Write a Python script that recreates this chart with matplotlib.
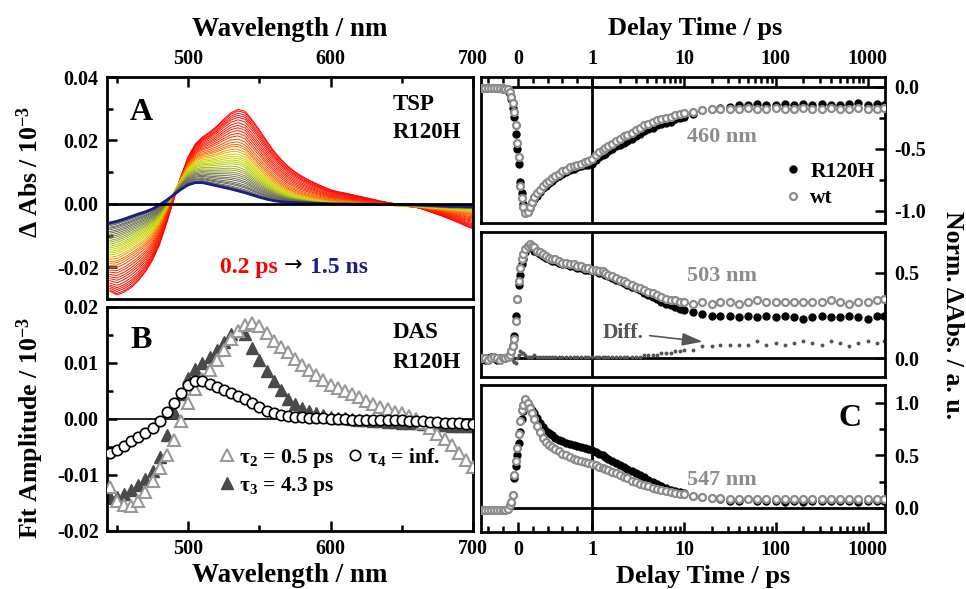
import numpy as np
import matplotlib.pyplot as plt
from matplotlib.colors import LinearSegmentedColormap
from matplotlib.ticker import FixedLocator, FuncFormatter, FormatStrFormatter

plt.rcParams['font.family'] = ['Liberation Serif', 'DejaVu Sans']
plt.rcParams['font.weight'] = 'bold'
plt.rcParams['mathtext.fontset'] = 'custom'
plt.rcParams['mathtext.rm'] = 'Liberation Serif:bold'
plt.rcParams['mathtext.it'] = 'Liberation Serif:bold'
plt.rcParams['mathtext.bf'] = 'Liberation Serif:bold'
plt.rcParams['axes.unicode_minus'] = False

# ---- decay associated spectra (fit amplitudes, 10^-3) ----
wl = np.arange(445, 701, 5)
das2 = [-0.0122, -0.0147, -0.0153, -0.0155, -0.0146, -0.0130, -0.0110, -0.0088, -0.0065, -0.0038,
        -0.0003, 0.0028, 0.0053, 0.0072, 0.0088, 0.0105, 0.0124, 0.0143, 0.0158, 0.0167,
        0.0172, 0.0166, 0.0153, 0.0140, 0.0128, 0.0119, 0.0108, 0.0097, 0.0087, 0.0078,
        0.0069, 0.0061, 0.0055, 0.0050, 0.0045, 0.0039, 0.0033, 0.0027, 0.0022, 0.0017,
        0.0013, 0.0010, 0.0005, 0.0000, -0.0007, -0.0016, -0.0026, -0.0036, -0.0046, -0.0060,
        -0.0073, -0.0085]
das3 = [-0.0140, -0.0140, -0.0134, -0.0126, -0.0118, -0.0107, -0.0092, -0.0068, -0.0029, 0.0012,
        0.0045, 0.0073, 0.0090, 0.0100, 0.0110, 0.0123, 0.0138, 0.0151, 0.0158, 0.0152,
        0.0127, 0.0106, 0.0086, 0.0067, 0.0051, 0.0036, 0.0026, 0.0020, 0.0015, 0.0011,
        0.0007, 0.0004, 0.0002, 0.0001, 0.0000, -0.0001, -0.0002, -0.0003, -0.0004, -0.0005,
        -0.0006, -0.0007, -0.0008, -0.0008, -0.0009, -0.0010, -0.0010, -0.0011, -0.0012, -0.0012,
        -0.0013, -0.0013]
das4 = [-0.0060, -0.0055, -0.0048, -0.0040, -0.0032, -0.0025, -0.0016, -0.0003, 0.0012, 0.0029,
        0.0046, 0.0060, 0.0067, 0.0067, 0.0062, 0.0057, 0.0052, 0.0047, 0.0041, 0.0035,
        0.0028, 0.0021, 0.0015, 0.0010, 0.0007, 0.0005, 0.0004, 0.0003, 0.0002, 0.0001,
        0.0001, 0.0000, 0.0000, 0.0000, -0.0001, -0.0001, -0.0001, -0.0001, -0.0002, -0.0002,
        -0.0002, -0.0002, -0.0003, -0.0003, -0.0004, -0.0005, -0.0006, -0.0007, -0.0008, -0.0008,
        -0.0009, -0.0009]
taus = [0.5, 4.3, np.inf]  # ps

# delays of the transient spectra in panel A (0.2 ps -> 1.5 ns)
spec_delays = [0.2, 0.22, 0.25, 0.28, 0.31, 0.35, 0.4, 0.45, 0.5, 0.56, 0.63, 0.7, 0.8, 0.9,
               1.0, 1.1, 1.25, 1.4, 1.6, 1.8, 2.0, 2.25, 2.5, 2.8, 3.2, 3.6, 4.0, 4.5, 5.0,
               5.6, 6.3, 7.0, 8.0, 9.0, 10, 12, 14, 17, 20, 25, 30, 40, 50, 70, 100, 150,
               200, 300, 500, 800, 1000, 1500]

# ---- kinetic traces (normalised) ----
delay = [-0.48, -0.44, -0.40, -0.36, -0.32, -0.28, -0.24, -0.20, -0.17, -0.14, -0.11, -0.09,
         -0.07, -0.05, -0.03, -0.01, 0.01, 0.03, 0.05, 0.07, 0.10, 0.13, 0.16, 0.19, 0.22,
         0.26, 0.30, 0.34, 0.38, 0.42, 0.46, 0.50, 0.55, 0.60, 0.65, 0.70, 0.75, 0.80, 0.85,
         0.90, 0.95, 1.00,
         1.1, 1.2, 1.3, 1.4, 1.5, 1.65, 1.8, 2.0, 2.2, 2.4, 2.7, 3.0, 3.3, 3.7, 4.1, 4.6,
         5.1, 5.7, 6.4, 7.2, 8.0, 9.0, 10.0,
         12.6, 15.8, 20, 25, 32, 40, 50, 63, 79, 100, 126, 158, 200, 251, 316, 398, 501,
         631, 794, 1000, 1259, 1500]

r120h_460 = [-0.01, -0.01, -0.01, -0.01, -0.01, -0.01, -0.01, -0.02, -0.02, -0.03, -0.06, -0.10,
             -0.17, -0.24, -0.38, -0.50, -0.62, -0.77, -0.86, -0.95, -1.00, -1.01, -0.98, -0.94, -0.91,
             -0.88, -0.85, -0.82, -0.80, -0.78, -0.76, -0.74, -0.72, -0.70, -0.69, -0.67, -0.66, -0.65, -0.64,
             -0.63, -0.63, -0.62,
             -0.59, -0.57, -0.55, -0.54, -0.52, -0.50, -0.48, -0.47, -0.45, -0.44, -0.42, -0.40, -0.38, -0.36,
             -0.34, -0.33, -0.31, -0.30, -0.29, -0.28, -0.26, -0.25, -0.24,
             -0.22, -0.19, -0.18, -0.17, -0.16, -0.15, -0.15, -0.14, -0.15, -0.15, -0.14, -0.15, -0.14,
             -0.15, -0.14, -0.15, -0.15, -0.14, -0.13, -0.15, -0.14, -0.15]
wt_460 = [-0.01, -0.01, -0.01, -0.01, -0.01, -0.01, -0.01, -0.01, -0.02, -0.02, -0.04, -0.08,
          -0.13, -0.20, -0.31, -0.45, -0.57, -0.80, -0.90, -0.97, -1.02, -1.01, -0.97, -0.93, -0.89,
          -0.86, -0.83, -0.80, -0.78, -0.76, -0.74, -0.72, -0.70, -0.68, -0.67, -0.65, -0.64, -0.63, -0.62,
          -0.61, -0.60, -0.58,
          -0.55, -0.53, -0.51, -0.49, -0.48, -0.46, -0.44, -0.42, -0.40, -0.39, -0.37, -0.35, -0.33, -0.31,
          -0.30, -0.28, -0.27, -0.26, -0.25, -0.24, -0.23, -0.22, -0.21,
          -0.20, -0.19, -0.18, -0.18, -0.18, -0.18, -0.17, -0.18, -0.18, -0.17, -0.18, -0.18, -0.17,
          -0.18, -0.18, -0.17, -0.18, -0.18, -0.17, -0.18, -0.18, -0.17]

r120h_503 = [0.00, -0.01, 0.00, 0.01, 0.00, -0.01, 0.00, 0.00, 0.00, 0.01, 0.02, 0.04,
             0.08, 0.13, 0.25, 0.35, 0.43, 0.49, 0.55, 0.58, 0.62, 0.65, 0.66, 0.65, 0.63,
             0.62, 0.61, 0.60, 0.59, 0.58, 0.57, 0.57, 0.56, 0.55, 0.55, 0.54, 0.54, 0.53, 0.53,
             0.52, 0.52, 0.51,
             0.51, 0.50, 0.50, 0.49, 0.48, 0.47, 0.46, 0.45, 0.44, 0.43, 0.42, 0.41, 0.40, 0.38,
             0.37, 0.36, 0.35, 0.33, 0.32, 0.31, 0.30, 0.29, 0.28,
             0.27, 0.26, 0.25, 0.25, 0.25, 0.24, 0.25, 0.24, 0.25, 0.24, 0.25, 0.24, 0.23,
             0.24, 0.25, 0.24, 0.24, 0.25, 0.24, 0.23, 0.25, 0.25]
wt_503 = [0.00, 0.00, -0.01, 0.00, 0.01, 0.00, -0.01, 0.00, 0.00, 0.01, 0.02, 0.04,
          0.07, 0.11, 0.22, 0.35, 0.45, 0.53, 0.58, 0.61, 0.64, 0.66, 0.67, 0.66, 0.65,
          0.63, 0.62, 0.61, 0.60, 0.59, 0.58, 0.58, 0.57, 0.56, 0.56, 0.55, 0.55, 0.54, 0.54,
          0.53, 0.53, 0.52,
          0.52, 0.51, 0.51, 0.50, 0.49, 0.48, 0.47, 0.46, 0.45, 0.44, 0.43, 0.42, 0.41, 0.40,
          0.39, 0.38, 0.37, 0.36, 0.35, 0.34, 0.34, 0.33, 0.33,
          0.32, 0.33, 0.32, 0.33, 0.33, 0.32, 0.33, 0.34, 0.33, 0.33, 0.33, 0.33, 0.33,
          0.33, 0.33, 0.34, 0.33, 0.32, 0.33, 0.33, 0.34, 0.35]

r120h_547 = [-0.02, -0.02, -0.02, -0.02, -0.02, -0.02, -0.02, -0.02, -0.02, -0.01, 0.02, 0.05,
             0.12, 0.28, 0.40, 0.50, 0.62, 0.72, 0.85, 0.92, 0.96, 0.98, 0.96, 0.93, 0.90,
             0.86, 0.81, 0.77, 0.73, 0.71, 0.69, 0.67, 0.65, 0.64, 0.62, 0.61, 0.60, 0.59, 0.58,
             0.57, 0.56, 0.55,
             0.53, 0.51, 0.50, 0.48, 0.47, 0.45, 0.43, 0.41, 0.39, 0.37, 0.35, 0.33, 0.31, 0.29,
             0.27, 0.25, 0.23, 0.21, 0.19, 0.17, 0.16, 0.15, 0.14,
             0.11, 0.10, 0.09, 0.08, 0.07, 0.07, 0.08, 0.07, 0.07, 0.07, 0.06, 0.07, 0.06,
             0.07, 0.07, 0.07, 0.07, 0.07, 0.06, 0.07, 0.07, 0.07]
wt_547 = [-0.02, -0.02, -0.02, -0.02, -0.02, -0.02, -0.02, -0.02, -0.02, -0.01, 0.03, 0.06,
          0.12, 0.31, 0.45, 0.57, 0.70, 0.83, 0.93, 0.98, 1.04, 1.00, 0.95, 0.90, 0.85,
          0.78, 0.72, 0.67, 0.63, 0.60, 0.58, 0.56, 0.54, 0.51, 0.50, 0.48, 0.47, 0.46, 0.45,
          0.44, 0.43, 0.42,
          0.41, 0.39, 0.38, 0.37, 0.36, 0.34, 0.33, 0.31, 0.29, 0.28, 0.26, 0.25, 0.23, 0.22,
          0.21, 0.19, 0.18, 0.17, 0.16, 0.15, 0.14, 0.13, 0.13,
          0.11, 0.10, 0.09, 0.09, 0.08, 0.08, 0.08, 0.08, 0.08, 0.08, 0.08, 0.08, 0.08,
          0.08, 0.08, 0.08, 0.08, 0.08, 0.08, 0.08, 0.08, 0.08]

delay = np.array(delay)
W, H = 966, 589
fig = plt.figure(figsize=(W / 100, H / 100), dpi=100)


def rect(x0, y0, x1, y1):
    return [x0 / W, 1 - y1 / H, (x1 - x0) / W, (y1 - y0) / H]


def ftext(x, y, s, **kw):
    fig.text(x / W, 1 - y / H, s, **kw)


def style(ax):
    for sp in ax.spines.values():
        sp.set_linewidth(2)
    ax.tick_params(which='both', direction='in', labelsize=14.5, width=1.8)
    ax.tick_params(which='major', length=7, pad=6)
    ax.tick_params(which='minor', length=4)


axA = fig.add_axes(rect(107, 77, 473, 299))
axB = fig.add_axes(rect(107, 307, 473, 531))

# ---- panel A: transient spectra built from the DAS ----
navy = '#1c1c8c'
cmap = LinearSegmentedColormap.from_list('tsp', [
    (0.0, '#ff0000'), (0.12, '#ff2400'), (0.18, '#ff6a00'), (0.23, '#d8cc00'),
    (0.27, '#c4dc00'), (0.32, '#9cb020'), (0.38, '#6a6a50'), (0.70, '#4a4a5a'), (1.0, navy)])
lt = np.log(spec_delays)
for i, t in enumerate(spec_delays):
    s = sum(np.array(d) * np.exp(-t / tau) for d, tau in zip([das2, das3, das4], taus))
    f = (lt[i] - lt[0]) / (lt[-1] - lt[0])
    last = i == len(spec_delays) - 1
    axA.plot(wl, s, color=navy if last else cmap(f), lw=2.0 if last else 0.7,
             zorder=3 if last else 2)
axA.axhline(0, color='k', lw=2, zorder=4)
axA.set_xlim(443, 700)
axA.set_ylim(-0.03, 0.04)
axA.xaxis.tick_top()
axA.xaxis.set_major_locator(FixedLocator([500, 600, 700]))
axA.xaxis.set_minor_locator(FixedLocator([450, 550, 650]))
axA.yaxis.set_major_locator(FixedLocator([-0.02, 0.0, 0.02, 0.04]))
axA.yaxis.set_minor_locator(FixedLocator([-0.01, 0.01, 0.03]))
axA.yaxis.set_major_formatter(FormatStrFormatter('%.2f'))
style(axA)
axA.tick_params(axis='x', which='both', top=True, bottom=False, labeltop=True, labelbottom=False)
axA.tick_params(axis='y', which='both', right=False)

# ---- panel B: DAS ----
axB.plot(wl, das3, '^', color='#4a4a4a', ms=8, zorder=2, label='τ$_3$ = 4.3 ps')
axB.plot(wl, das2, '^', mfc='white', mec='#999999', mew=1.5, ms=8.5, zorder=3,
         label='τ$_2$ = 0.5 ps')
axB.plot(wl, das4, 'o', mfc='white', mec='black', mew=1.2, ms=7.5, zorder=4,
         label='τ$_4$ = inf.')
axB.axhline(0, color='k', lw=1.2, zorder=1)
axB.set_xlim(443, 700)
axB.set_ylim(-0.02, 0.02)
axB.xaxis.set_major_locator(FixedLocator([500, 600, 700]))
axB.xaxis.set_minor_locator(FixedLocator([450, 550, 650]))
axB.yaxis.set_major_locator(FixedLocator([-0.02, -0.01, 0.0, 0.01, 0.02]))
axB.yaxis.set_minor_locator(FixedLocator([-0.015, -0.005, 0.005, 0.015]))
axB.yaxis.set_major_formatter(FormatStrFormatter('%.2f'))
style(axB)
axB.tick_params(axis='x', which='both', top=False)
axB.tick_params(axis='y', which='both', right=False)
h, l = axB.get_legend_handles_labels()
axB.legend([h[1], h[0], h[2]], [l[1], l[0], l[2]], ncol=2, loc='upper left',
           bbox_to_anchor=(0.28, 0.42), frameon=False, fontsize=15.5, handlelength=0.8,
           handletextpad=0.15, columnspacing=0.6, labelspacing=0.25, borderaxespad=0)

# ---- kinetic panels: linear up to 1 ps, logarithmic beyond ----
K = 1.24


def fwd(t):
    t = np.asarray(t, float)
    return np.where(t <= 1, t, 1 + K * np.log10(np.maximum(t, 1)))


def inv(u):
    u = np.asarray(u, float)
    return np.where(u <= 1, u, 10 ** ((np.maximum(u, 1) - 1) / K))


t_major = [0, 1, 10, 100, 1000]
t_minor = [-0.4, -0.2, 0.2, 0.4, 0.6, 0.8] + [m * 10 ** d for d in range(3) for m in range(2, 10)]

axR1 = fig.add_axes(rect(481, 77, 885, 223))
axR2 = fig.add_axes(rect(481, 232, 885, 377))
axR3 = fig.add_axes(rect(481, 385, 885, 532))

traces = [(axR1, r120h_460, wt_460, (-1.1, 0.08), [-1.0, -0.5, 0.0], [-0.75, -0.25]),
          (axR2, r120h_503, wt_503, (-0.11, 0.74), [0.0, 0.5], []),
          (axR3, r120h_547, wt_547, (-0.23, 1.17), [0.0, 0.5, 1.0], [0.25, 0.75])]
for ax, rh, wt, ylim, ymaj, ymin in traces:
    ax.set_xscale('function', functions=(fwd, inv))
    ax.plot(delay, rh, 'o', color='black', ms=5, zorder=3, label='R120H')
    ax.plot(delay, wt, 'o', mfc='white', mec='#8c8c8c', mew=1.6, ms=5, zorder=4, label='wt')
    ax.axhline(0, color='k', lw=2, zorder=1)
    ax.axvline(1, color='k', lw=2, zorder=1)
    ax.set_xlim(-0.5, 1550)
    ax.set_ylim(*ylim)
    ax.xaxis.set_major_locator(FixedLocator(t_major))
    ax.xaxis.set_minor_locator(FixedLocator(t_minor))
    ax.xaxis.set_major_formatter(FuncFormatter(lambda v, p: f'{v:g}'))
    ax.yaxis.set_major_locator(FixedLocator(ymaj))
    ax.yaxis.set_minor_locator(FixedLocator(ymin))
    ax.yaxis.set_major_formatter(FormatStrFormatter('%.1f'))
    style(ax)
    ax.tick_params(axis='y', which='both', left=False, right=True, labelleft=False,
                   labelright=True, pad=7)
    ax.tick_params(axis='x', which='both', top=False, bottom=False, labeltop=False,
                   labelbottom=False)

axR1.tick_params(axis='x', which='both', top=True, labeltop=True)
axR3.tick_params(axis='x', which='both', bottom=True, labelbottom=True)

diff_503 = np.array(wt_503) - np.array(r120h_503)
axR2.plot(delay, diff_503, 'o', color='#555555', ms=1.8, zorder=2)
axR2.annotate('Diff.', xy=(16, 0.097), xytext=(1.32, 0.15), color='#555555', fontsize=15.5,
              ha='left', va='center',
              arrowprops=dict(arrowstyle='-|>,head_length=0.8,head_width=0.25',
                              color='#555555', lw=1.2, shrinkA=2, shrinkB=0))

axR1.legend(loc='upper left', bbox_to_anchor=(0.73, 0.48), frameon=False, fontsize=15.5,
            handlelength=0.8, handletextpad=0.4, labelspacing=0.3, borderaxespad=0)

# ---- text ----
gray = '#8c8c8c'
ftext(722, 137, '460 nm', color=gray, fontsize=16, ha='center', va='center')
ftext(722, 276, '503 nm', color=gray, fontsize=16, ha='center', va='center')
ftext(722, 480, '547 nm', color=gray, fontsize=16, ha='center', va='center')

ftext(130, 112, 'A', fontsize=23, ha='left', va='center')
ftext(130, 340, 'B', fontsize=23, ha='left', va='center')
ftext(838, 418, 'C', fontsize=23, ha='left', va='center')
ftext(393, 104, 'TSP', fontsize=16.5, ha='left', va='center')
ftext(393, 133, 'R120H', fontsize=16.5, ha='left', va='center')
ftext(393, 332, 'DAS', fontsize=16.5, ha='left', va='center')
ftext(393, 362, 'R120H', fontsize=16.5, ha='left', va='center')

ftext(220, 273, '0.2 ps', color='#ff0000', fontsize=17, ha='left', va='baseline')
ftext(284, 271, '→', fontsize=16, family='DejaVu Sans', weight='normal', ha='left',
      va='baseline')
ftext(310, 273, '1.5 ns', color=navy, fontsize=17, ha='left', va='baseline')

ftext(290, 29, 'Wavelength / nm', fontsize=19.5, ha='center', va='center')
ftext(290, 576, 'Wavelength / nm', fontsize=19.5, ha='center', va='center')
ftext(695, 28, 'Delay Time / ps', fontsize=19, ha='center', va='center')
ftext(703, 576, 'Delay Time / ps', fontsize=19, ha='center', va='center')
ftext(30, 172, 'Δ Abs / 10$^{-3}$', fontsize=18.5, rotation=90, ha='center', va='center')
ftext(30, 428, 'Fit Amplitude / 10$^{-3}$', fontsize=18.5, rotation=90, ha='center',
      va='center')
ftext(952, 315, 'Norm. ΔAbs. / a. u.', fontsize=18.5, rotation=270, ha='center', va='center')

fig.savefig('out.png', dpi=100)
